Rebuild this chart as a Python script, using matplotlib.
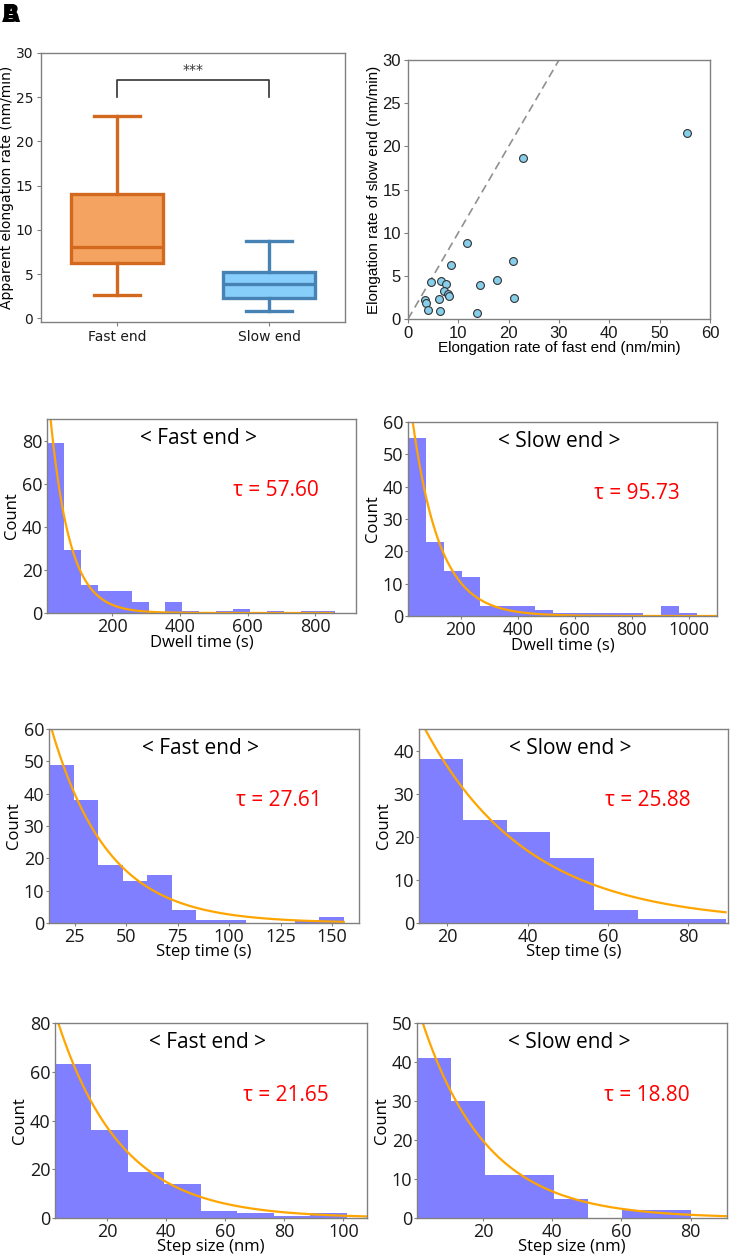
import numpy as np
import matplotlib
matplotlib.use("Agg")
import matplotlib.pyplot as plt

# ---------------- data ----------------
box_labels = ["Fast end", "Slow end"]
box_whislo = [2.6, 0.8]
box_q1 = [6.3, 2.3]
box_med = [8.1, 3.9]
box_q3 = [14.1, 5.3]
box_whishi = [22.9, 8.8]
box_face = ["#F4A460", "#87CEFA"]
box_edge = ["#D2691E", "#4682B4"]

fast_rate = [55.4, 22.9, 11.8, 8.5, 20.8, 4.6, 6.5, 7.5, 14.3, 17.6,
             7.1, 7.9, 8.1, 6.2, 21.1, 3.4, 3.6, 4.0, 6.3, 13.8]
slow_rate = [21.6, 18.7, 8.8, 6.3, 6.7, 4.3, 4.4, 4.1, 3.9, 4.5,
             3.3, 2.9, 2.7, 2.3, 2.4, 2.2, 1.9, 1.0, 0.9, 0.7]

# histograms: title, xlabel, bin range, counts, tau, fit amplitude, fit end
hist_titles = ["< Fast end >", "< Slow end >"] * 3
hist_xlabels = ["Dwell time (s)", "Dwell time (s)", "Step time (s)",
                "Step time (s)", "Step size (nm)", "Step size (nm)"]
hist_range = [(7, 857), (15, 1031), (12.5, 155.6), (12.9, 89.3),
              (2.4, 101.1), (0.9, 80.0)]
hist_counts = [
    [79, 29, 13, 10, 10, 5, 0, 5, 1, 0, 1, 2, 0, 1, 0, 1, 1],
    [55, 23, 14, 12, 3, 3, 3, 2, 1, 1, 1, 1, 1, 0, 3, 1],
    [49, 38, 18, 13, 15, 4, 1, 1, 0, 0, 1, 2],
    [38, 24, 21, 15, 3, 1, 1],
    [63, 36, 19, 14, 3, 2, 1, 2],
    [41, 30, 11, 11, 5, 0, 2, 2],
]
hist_tau = [57.60, 95.73, 27.61, 25.88, 21.65, 18.80]
fit_amp = [122, 83.5, 98.6, 78.5, 94.0, 57.3]
fit_end = [851, 1100, 155.6, 89.3, 108, 90.5]
hist_xlim = [(7, 920), (15, 1100), (12.5, 163), (12.9, 89.9), (2.4, 108), (0.9, 90.5)]
hist_ylim = [90, 60, 60, 45, 80, 50]
hist_ystep = [20, 10, 10, 10, 20, 10]
hist_xticks = [[200, 400, 600, 800], [200, 400, 600, 800, 1000],
               [25, 50, 75, 100, 125, 150], [20, 40, 60, 80],
               [20, 40, 60, 80, 100], [20, 40, 60, 80]]

# ---------------- figure ----------------
W, H = 733, 1260
fig = plt.figure(figsize=(W / 100, H / 100), dpi=100)


def add_ax(left, right, top, bottom):
    return fig.add_axes([left / W, 1 - bottom / H, (right - left) / W, (bottom - top) / H])


def style_spines(ax):
    for s in ax.spines.values():
        s.set_color("#808080")
        s.set_linewidth(1.0)
    ax.tick_params(color="#808080", labelcolor="#1a1a1a")


# panel letters (overlapping in the original)
fig.text(0.003, 0.998, "A", fontsize=17, fontweight="bold", va="top", ha="left")
fig.text(0.003, 0.998, "B", fontsize=17, fontweight="bold", va="top", ha="left")

# ---- box plot ----
ax = add_ax(41, 345, 53, 322)
stats = []
for i in range(2):
    stats.append(dict(label=box_labels[i], whislo=box_whislo[i], q1=box_q1[i],
                      med=box_med[i], q3=box_q3[i], whishi=box_whishi[i], fliers=[]))
bp = ax.bxp(stats, positions=[0, 1], widths=0.6, patch_artist=True, showfliers=False)
for i in range(2):
    bp["boxes"][i].set(facecolor=box_face[i], edgecolor=box_edge[i], linewidth=2.4)
    bp["medians"][i].set(color=box_edge[i], linewidth=2.4)
    for k in (2 * i, 2 * i + 1):
        bp["whiskers"][k].set(color=box_edge[i], linewidth=2.4)
        bp["caps"][k].set(color=box_edge[i], linewidth=2.4)
ax.plot([0, 0, 1, 1], [25, 27, 27, 25], color="#333333", lw=1.2)
ax.text(0.5, 27.3, "***", ha="center", va="bottom", fontsize=10, color="#333333")
ax.set_xlim(-0.5, 1.5)
ax.set_ylim(-0.4, 30)
ax.set_yticks(range(0, 31, 5))
ax.tick_params(labelsize=10, length=3, pad=2.5)
ax.set_ylabel("Apparent elongation rate (nm/min)", fontsize=10, labelpad=1.5)
style_spines(ax)

# ---- scatter ----
ax = add_ax(408, 710, 60, 319)
ax.plot([0, 30], [0, 30], ls="--", color="#909090", lw=1.2, dashes=(5, 3))
ax.scatter(fast_rate, slow_rate, s=32, facecolor="#87CEEB", edgecolor="#333333",
           linewidth=0.8, zorder=3)
ax.set_xlim(0, 60)
ax.set_ylim(0, 30)
ax.set_xticks(range(0, 61, 10))
ax.set_yticks(range(0, 31, 5))
ax.tick_params(labelsize=12, length=3, pad=2)
for t in ax.get_xticklabels() + ax.get_yticklabels():
    t.set_fontfamily("Liberation Sans")
ax.set_xlabel("Elongation rate of fast end (nm/min)", fontsize=11,
              fontfamily="Liberation Sans", labelpad=0)
ax.set_ylabel("Elongation rate of slow end (nm/min)", fontsize=11,
              fontfamily="Liberation Sans", labelpad=1)
style_spines(ax)

# ---- histograms ----
hist_boxes = [(47, 356, 419, 613), (408, 717, 422, 616),
              (49, 359, 729, 923), (419, 728, 729, 923),
              (55, 367, 1023, 1218), (417, 727, 1023, 1218)]

for i, (l, r, t, b) in enumerate(hist_boxes):
    ax = add_ax(l, r, t, b)
    counts = hist_counts[i]
    edges = np.linspace(hist_range[i][0], hist_range[i][1], len(counts) + 1)
    ax.hist(edges[:-1], bins=edges, weights=counts, color="blue", alpha=0.5)
    xf = np.linspace(hist_range[i][0], fit_end[i], 400)
    ax.plot(xf, fit_amp[i] * np.exp(-xf / hist_tau[i]), color="orange", lw=1.6)
    ax.set_xlim(*hist_xlim[i])
    ax.set_ylim(0, hist_ylim[i])
    ax.set_yticks(range(0, hist_ylim[i] + 1, hist_ystep[i]))
    ax.set_xticks(hist_xticks[i])
    ax.tick_params(labelsize=13, length=2, pad=1.5)
    for tl in ax.get_xticklabels() + ax.get_yticklabels():
        tl.set_fontfamily("Open Sans")
    ax.set_xlabel(hist_xlabels[i], fontsize=12, fontfamily="Open Sans", labelpad=-1)
    ax.set_ylabel("Count", fontsize=12, fontfamily="Open Sans", labelpad=1)
    ax.text(0.49, 0.90, hist_titles[i], transform=ax.transAxes, ha="center",
            va="center", fontsize=15, fontfamily="Open Sans")
    ax.text(0.74, 0.63, "\u03c4 = %.2f" % hist_tau[i], transform=ax.transAxes,
            ha="center", va="center", fontsize=15, color="red", fontfamily="Open Sans")
    style_spines(ax)

fig.savefig("out.png", dpi=100)
